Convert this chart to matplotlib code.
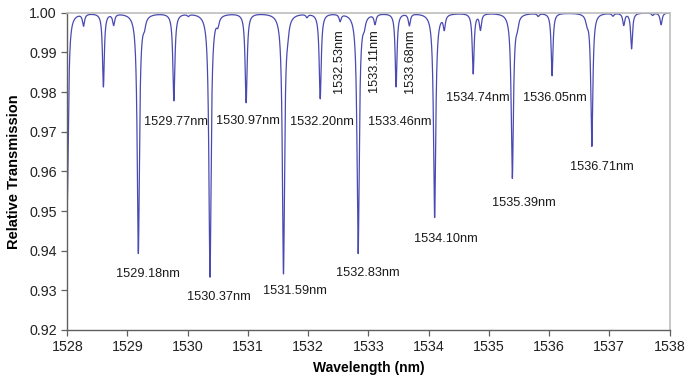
import numpy as np
import matplotlib
matplotlib.use("Agg")
import matplotlib.pyplot as plt

plt.rcParams['font.family'] = ['Liberation Sans', 'DejaVu Sans']

# Resonance dips of the transmission spectrum: centre (nm), depth, half-width (nm)
dip_center = [1528.00, 1528.27, 1528.60, 1528.77, 1529.18, 1529.28, 1529.77, 1530.01,
              1530.37, 1530.50, 1530.97, 1531.59, 1531.66, 1531.98, 1532.20, 1532.53,
              1532.83, 1532.93, 1533.11, 1533.46, 1533.68, 1534.10, 1534.26, 1534.74,
              1534.86, 1535.39, 1535.47, 1535.82, 1536.05, 1536.63, 1536.71, 1537.06,
              1537.24, 1537.37, 1537.72, 1537.86]
dip_depth = [0.048, 0.0030, 0.0185, 0.0028, 0.0605, 0.0020, 0.0220, 0.0005,
             0.0665, 0.0020, 0.0225, 0.0655, 0.0022, 0.0008, 0.0215, 0.0018,
             0.0605, 0.0020, 0.0025, 0.0185, 0.0030, 0.0515, 0.0035, 0.0152,
             0.0040, 0.0415, 0.0022, 0.0007, 0.0158, 0.0018, 0.0335, 0.0007,
             0.0030, 0.0090, 0.0006, 0.0030]
dip_width = [0.022, 0.020, 0.018, 0.020, 0.022, 0.025, 0.020, 0.020,
             0.022, 0.025, 0.020, 0.022, 0.025, 0.020, 0.020, 0.020,
             0.022, 0.025, 0.020, 0.018, 0.020, 0.022, 0.020, 0.018,
             0.020, 0.022, 0.025, 0.020, 0.018, 0.025, 0.020, 0.020,
             0.020, 0.018, 0.020, 0.020]

# Resonances carrying a wavelength label, and where each label sits
labelled = [1529.18, 1529.77, 1530.37, 1530.97, 1531.59, 1532.20, 1532.53, 1532.83,
            1533.11, 1533.46, 1533.68, 1534.10, 1534.74, 1535.39, 1536.05, 1536.71]
label_x = [1529.34, 1529.81, 1530.52, 1531.00, 1531.78, 1532.23, 1532.51, 1532.99,
           1533.10, 1533.52, 1533.69, 1534.29, 1534.82, 1535.58, 1536.09, 1536.87]
label_y = [0.9341, 0.9724, 0.9284, 0.9727, 0.9298, 0.9724, 0.9877, 0.9344,
           0.9878, 0.9724, 0.9878, 0.9429, 0.9786, 0.9519, 0.9786, 0.9612]
vertical_labels = {1532.53, 1533.11, 1533.68}

x_ticks = list(range(1528, 1539))
y_ticks = [0.92, 0.93, 0.94, 0.95, 0.96, 0.97, 0.98, 0.99, 1.00]

# Transmission = 1 minus a sum of Lorentzian resonance lines
wl = np.linspace(1528.0, 1538.0, 20001)
trans = np.ones_like(wl)
for c, d, g in zip(dip_center, dip_depth, dip_width):
    trans -= d / (1.0 + ((wl - c) / g) ** 2)

fig = plt.figure(figsize=(6.85, 3.78), dpi=100)
ax = fig.add_axes([0.0982, 0.127, 0.9774 - 0.0982, 0.9664 - 0.127])

ax.plot(wl, trans, color='#4a4ab2', lw=0.9)

for c, lx, ly in zip(labelled, label_x, label_y):
    rot = 90 if c in vertical_labels else 0
    ax.text(lx, ly, f"{c:.2f}nm", fontsize=9.2, color='#1a1a1a',
            ha='center', va='center', rotation=rot)

ax.set_xlim(1528, 1538)
ax.set_ylim(0.92, 1.00)
ax.set_xticks(x_ticks)
ax.set_yticks(y_ticks)
ax.set_xticklabels([str(v) for v in x_ticks])
ax.set_yticklabels([f"{v:.2f}" for v in y_ticks])
ax.tick_params(axis='both', direction='out', length=4, width=0.9,
               color='#606060', labelsize=10.3, labelcolor='#222222', pad=3.5)

for side in ('left', 'bottom'):
    ax.spines[side].set_color('#606060')
    ax.spines[side].set_linewidth(1.0)
for side in ('top', 'right'):
    ax.spines[side].set_color('#bdbdbd')
    ax.spines[side].set_linewidth(1.2)

ax.set_xlabel('Wavelength (nm)', fontsize=10, fontweight='bold', labelpad=5)
ax.set_ylabel('Relative Transmission', fontsize=10.5, fontweight='bold', labelpad=6)

fig.savefig('out.png', dpi=100, facecolor='white')
